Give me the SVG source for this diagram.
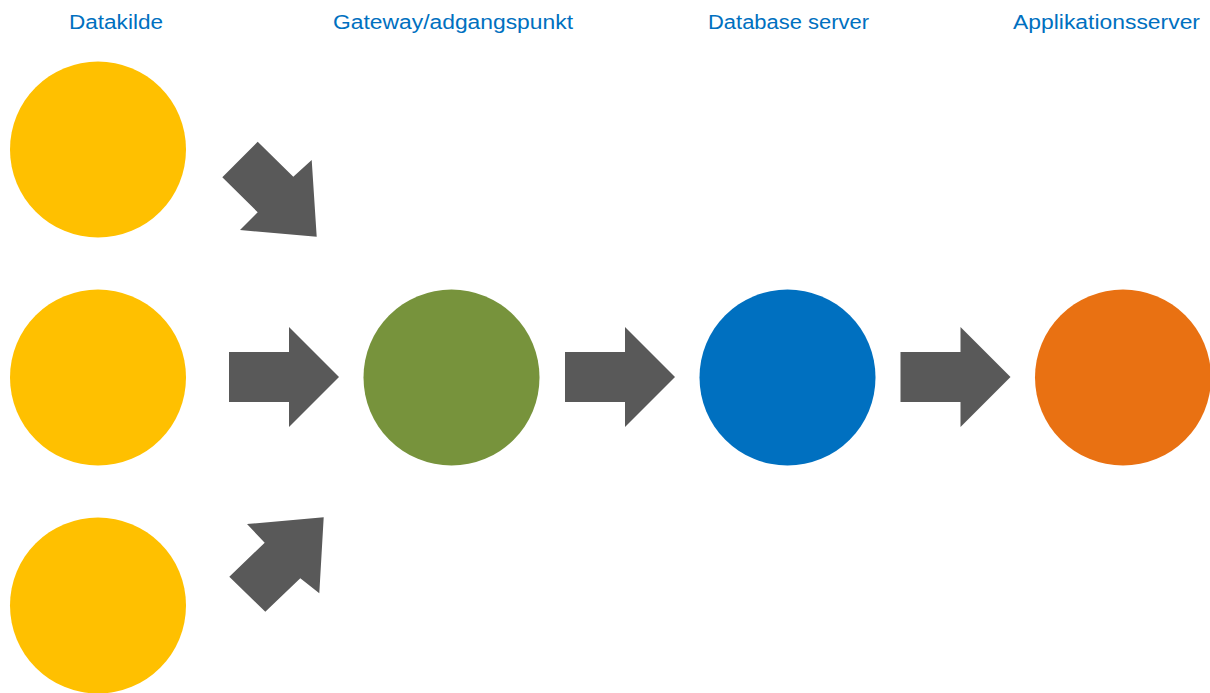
<svg xmlns="http://www.w3.org/2000/svg" width="1210" height="693" viewBox="0 0 1210 693">
  <style>
    .label { font-family: "Liberation Sans", Arial, sans-serif; font-size: 20px; fill: #0070C0; text-anchor: middle; }
    .src { fill: #FFC000; }
    .gw { fill: #77933C; }
    .db { fill: #0070C0; }
    .app { fill: #E97112; }
    .arrow { fill: #595959; }
  </style>
  <defs>
    <!-- block arrow, 110 long, centred on the origin, pointing right -->
    <path id="blockArrow" d="M-55,-25 H5 V-50 L55,0 L5,50 V25 H-55 Z"/>
  </defs>

  <g id="labels">
    <text class="label" x="116" y="29" textLength="94" lengthAdjust="spacingAndGlyphs">Datakilde</text>
    <text class="label" x="453" y="29" textLength="240" lengthAdjust="spacingAndGlyphs">Gateway/adgangspunkt</text>
    <text class="label" x="788.5" y="29" textLength="161" lengthAdjust="spacingAndGlyphs">Database server</text>
    <text class="label" x="1106.5" y="29" textLength="187" lengthAdjust="spacingAndGlyphs">Applikationsserver</text>
  </g>

  <g id="source-1"><circle class="src" cx="98" cy="149.5" r="88"/></g>
  <g id="source-2"><circle class="src" cx="98" cy="377.5" r="88"/></g>
  <g id="source-3"><circle class="src" cx="98" cy="605.5" r="88"/></g>
  <g id="gateway"><circle class="gw" cx="451.5" cy="377.5" r="88"/></g>
  <g id="database-server"><circle class="db" cx="787.5" cy="377.5" r="88"/></g>
  <g id="application-server"><circle class="app" cx="1123" cy="377.5" r="88"/></g>

  <g id="connectors">
    <!-- diagonal arrows from the upper and lower sources into the gateway -->
    <polygon class="arrow" points="222.3,177.3 257.7,141.7 293.3,176.7 311.7,160 316.7,236.7 240,230 257.7,212.3"/>
    <use href="#blockArrow" class="arrow" transform="translate(284,377)"/>
    <polygon class="arrow" points="229.3,576.7 265.3,611.7 300.3,578.3 319.3,593.3 323.7,517.3 247,524 264.7,542.7"/>
    <use href="#blockArrow" class="arrow" transform="translate(620,377)"/>
    <use href="#blockArrow" class="arrow" transform="translate(955.5,377)"/>
  </g>
</svg>
